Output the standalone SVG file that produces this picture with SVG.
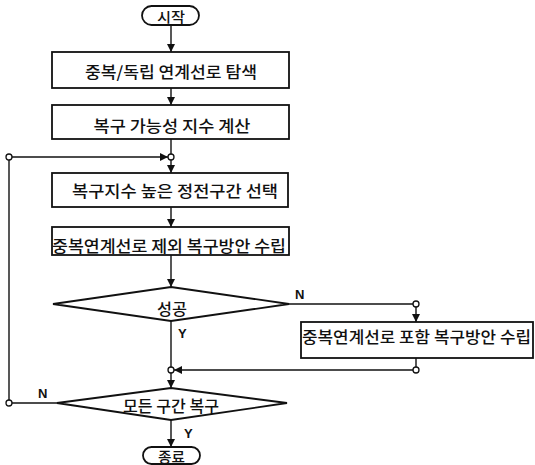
<svg xmlns="http://www.w3.org/2000/svg" width="535" height="465" viewBox="0 0 535 465">
<defs>
<marker id="ah" viewBox="0 0 10 10" refX="10" refY="5" markerWidth="8" markerHeight="8" markerUnits="userSpaceOnUse" orient="auto">
<path d="M0,0 L10,5 L0,10 Z" fill="#111"/>
</marker>
</defs>
<style>
.box{fill:#fff;stroke:#111;stroke-width:1.8}
.ln{fill:none;stroke:#111;stroke-width:1.4}
.jn{fill:#fff;stroke:#111;stroke-width:1.3}
.t{font-family:"Noto Sans CJK KR","Noto Sans",sans-serif;font-size:16px;font-weight:500;fill:#111;text-anchor:middle;dominant-baseline:central}
.ts{font-size:14px}
.lb{font-family:"Liberation Sans",Arial,sans-serif;font-size:13px;fill:#111;font-weight:bold}
</style>
<rect width="535" height="465" fill="#fff"/>
<g id="connectors">
<line class="ln" x1="171" y1="25" x2="171" y2="52" marker-end="url(#ah)"/>
<line class="ln" x1="171" y1="88" x2="171" y2="105" marker-end="url(#ah)"/>
<line class="ln" x1="171" y1="139" x2="171" y2="154"/>
<line class="ln" x1="171" y1="160" x2="171" y2="173" marker-end="url(#ah)"/>
<line class="ln" x1="171" y1="207" x2="171" y2="227" marker-end="url(#ah)"/>
<line class="ln" x1="171" y1="255" x2="171" y2="287" marker-end="url(#ah)"/>
<line class="ln" x1="171" y1="321" x2="171" y2="367"/>
<line class="ln" x1="171" y1="373" x2="171" y2="388" marker-end="url(#ah)"/>
<line class="ln" x1="171" y1="420" x2="171" y2="447" marker-end="url(#ah)"/>
<polyline class="ln" points="289,304 413,304"/>
<line class="ln" x1="416" y1="307" x2="416" y2="322" marker-end="url(#ah)"/>
<line class="ln" x1="416" y1="358" x2="416" y2="367"/>
<line class="ln" x1="413" y1="370" x2="174" y2="370" marker-end="url(#ah)"/>
<line class="ln" x1="57" y1="403" x2="12" y2="403"/>
<line class="ln" x1="9" y1="400" x2="9" y2="160"/>
<line class="ln" x1="12" y1="157" x2="168" y2="157" marker-end="url(#ah)"/>
<circle class="jn" cx="171" cy="157" r="3"/>
<circle class="jn" cx="9" cy="157" r="3"/>
<circle class="jn" cx="9" cy="403" r="3"/>
<circle class="jn" cx="416" cy="304" r="3"/>
<circle class="jn" cx="416" cy="370" r="3"/>
<circle class="jn" cx="171" cy="370" r="3"/>
<text class="lb" x="295" y="299">N</text>
<text class="lb" x="178" y="338">Y</text>
<text class="lb" x="38" y="398">N</text>
<text class="lb" x="184" y="438">Y</text>
</g>
<g id="start">
<rect class="box" x="142" y="6" width="57" height="19" rx="9.5"/>
<text class="t ts" x="171" y="15.5" textLength="28" lengthAdjust="spacingAndGlyphs">시작</text>
</g>
<g id="search">
<rect class="box" x="52" y="52" width="237" height="36"/>
<text class="t" x="171" y="71" textLength="172" lengthAdjust="spacingAndGlyphs">중복/독립 연계선로 탐색</text>
</g>
<g id="calc">
<rect class="box" x="52" y="105" width="237" height="34"/>
<text class="t" x="172" y="125" textLength="157" lengthAdjust="spacingAndGlyphs">복구 가능성 지수 계산</text>
</g>
<g id="select">
<rect class="box" x="52" y="173" width="236" height="34"/>
<text class="t" x="175" y="190" textLength="206" lengthAdjust="spacingAndGlyphs">복구지수 높은 정전구간 선택</text>
</g>
<g id="plan-excl">
<rect class="box" x="52" y="227" width="237" height="28"/>
<text class="t" x="169" y="245" textLength="234" lengthAdjust="spacingAndGlyphs">중복연계선로 제외 복구방안 수립</text>
</g>
<g id="success">
<polygon class="box" points="171,287 289,304 171,321 53,304"/>
<text class="t" x="172" y="308" textLength="30" lengthAdjust="spacingAndGlyphs">성공</text>
</g>
<g id="plan-incl">
<rect class="box" x="301" y="322" width="232" height="36"/>
<text class="t" x="416.5" y="336" textLength="229" lengthAdjust="spacingAndGlyphs">중복연계선로 포함 복구방안 수립</text>
</g>
<g id="all-restored">
<polygon class="box" points="171,388 287,403 171,420 57,403"/>
<text class="t" x="171" y="405" textLength="96" lengthAdjust="spacingAndGlyphs">모든 구간 복구</text>
</g>
<g id="end">
<rect class="box" x="143" y="447" width="57" height="17" rx="8.5"/>
<text class="t ts" x="171.5" y="455.5" textLength="27" lengthAdjust="spacingAndGlyphs">종료</text>
</g>
</svg>
